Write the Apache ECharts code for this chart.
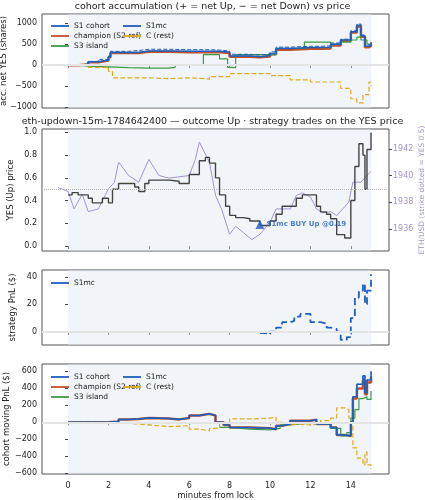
<!DOCTYPE html>
<html><head><meta charset="utf-8">
<script src="https://cdn.jsdelivr.net/npm/echarts@6/dist/echarts.min.js"></script>
<style>html,body{margin:0;padding:0;background:#fff}#c{width:425px;height:500px}</style>
</head><body><div id="c"></div>
<script>
// panel 1: accumulated net YES shares
const accS1 = [[0,0],[0.5,20],[1,80],[1.5,120],[2,200],[2.1,300],[3,300],[3.5,340],[4,340],[5,330],[6,330],[7,330],[7.5,310],[8,220],[8.5,220],[9,200],[9.5,230],[10,280],[10.3,400],[11,420],[12,420],[12.5,430],[13,500],[13.5,600],[14,800],[14.3,950],[14.5,700],[14.7,450],[14.9,480],[15,550]];
const accChamp = [[0,0],[0.5,15],[1,70],[1.5,110],[2,190],[2.1,290],[3,290],[3.5,320],[4,320],[5,310],[6,310],[7,310],[7.5,290],[8,200],[8.5,200],[9,190],[9.5,210],[10,260],[10.3,370],[11,390],[12,390],[12.5,400],[13,470],[13.5,580],[14,780],[14.3,920],[14.5,680],[14.7,430],[14.9,460],[15,500]];
const accS1mc = [[0,0],[0.5,30],[1,90],[1.5,140],[2,220],[2.1,330],[3,350],[3.5,380],[4,380],[5,370],[6,370],[7,360],[7.5,340],[8,260],[8.5,260],[9,240],[9.5,270],[10,320],[10.3,430],[11,450],[12,450],[12.5,460],[13,530],[13.5,620],[14,820],[14.3,980],[14.5,720],[14.7,480],[14.9,500],[15,580]];
const accS3 = [[0,0],[0.5,-20],[1,-40],[2,-60],[3,-70],[4,-70],[5,-50],[5.3,10],[6,10],[6.6,20],[6.7,250],[7.2,250],[7.5,150],[7.9,-50],[8.1,-60],[8.3,250],[9,250],[10,250],[10.3,400],[11,400],[11.7,550],[12.5,550],[13,500],[13.5,550],[14,600],[14.3,670],[14.5,600],[14.8,500],[15,500]];
const accC = [[0,0],[1,-50],[2,-150],[2.2,-300],[3,-300],[4,-320],[5,-300],[6,-330],[7,-270],[8,-200],[9,-200],[10,-250],[11,-350],[12,-400],[13,-400],[13.5,-550],[14,-800],[14.3,-900],[14.6,-700],[14.9,-400],[15,-500]];
// panel 2: YES price and ETH/USD
const yesPrice = [[0,0.45],[0.2,0.47],[0.5,0.45],[1,0.42],[1.2,0.38],[1.5,0.38],[1.7,0.42],[2,0.38],[2.2,0.5],[2.5,0.55],[3,0.55],[3.3,0.52],[3.5,0.48],[3.8,0.55],[4,0.58],[5,0.57],[5.5,0.55],[6,0.63],[6.5,0.75],[6.8,0.78],[7,0.73],[7.3,0.6],[7.5,0.45],[7.8,0.35],[8,0.27],[8.3,0.25],[8.7,0.24],[9,0.22],[9.5,0.18],[10,0.22],[10.3,0.28],[10.6,0.35],[11,0.35],[11.3,0.42],[11.6,0.45],[12,0.45],[12.3,0.35],[12.5,0.3],[12.8,0.28],[13,0.24],[13.3,0.1],[13.7,0.07],[14,0.4],[14.2,0.7],[14.4,0.9],[14.6,0.8],[14.7,0.5],[14.8,0.85],[15,1.0]];
const ethUsd = [[-0.5,1939.1],[0,1938.8],[0.3,1937.5],[0.7,1938.6],[1,1937.3],[1.5,1937.5],[2,1939],[2.3,1939.5],[2.5,1941],[3,1940],[3.5,1939.5],[4,1941.2],[4.5,1940],[5,1939.8],[6,1940],[6.3,1941.2],[6.5,1942.5],[7,1941],[7.3,1938.5],[7.6,1937.5],[8,1935.6],[8.3,1936.2],[8.7,1935.7],[9.1,1935.2],[9.5,1935.6],[10,1936.5],[10.3,1937.5],[11,1937.5],[11.3,1938.5],[11.6,1938.7],[12,1938.4],[12.3,1937.5],[12.6,1937.2],[13,1937.3],[13.3,1937.0],[13.6,1937.5],[13.9,1938],[14.1,1939.5],[14.5,1939.5],[14.8,1940],[15,1940.3]];
const buyMarker = [[9.5,0.19]];
// panel 3: strategy PnL
const pnlS1mc = [[9.5,-1],[9.8,-2],[10,0],[10.3,3],[10.6,7],[11,8],[11.2,11],[11.5,13],[11.9,13],[12,7],[12.5,6],[12.8,3],[13,2],[13.3,0],[13.5,-6],[13.8,-4],[14,10],[14.2,25],[14.4,30],[14.6,35],[14.7,20],[14.8,30],[15,42]];
// panel 4: cohort moving PnL
const mvS1 = [[0,0],[1,0],[2,10],[2.5,35],[3,40],[3.5,50],[4,45],[5,35],[5.5,50],[6,80],[6.5,100],[7,80],[7.3,0],[7.7,-30],[8,-60],[9,-70],[10,-80],[10.3,-40],[10.6,-20],[11,20],[12,30],[12.3,-20],[13,-60],[13.3,-150],[13.7,-160],[14,0],[14.1,300],[14.3,450],[14.6,550],[14.7,350],[14.8,500],[15,600]];
const mvChamp = [[0,0],[1,0],[2,10],[2.5,35],[3,40],[3.5,50],[4,45],[5,35],[5.5,50],[6,80],[6.5,100],[7,80],[7.3,0],[7.7,-30],[8,-60],[9,-70],[10,-80],[10.3,-40],[10.6,-20],[11,20],[12,30],[12.3,-20],[13,-60],[13.3,-150],[13.7,-160],[14,0],[14.1,280],[14.3,400],[14.6,500],[14.7,330],[14.8,470],[15,540]];
const mvS1mc = mvS1;
const mvS3 = [[0,0],[2,-10],[4,-10],[6,-10],[7,-10],[7.5,-60],[8,-80],[9,-90],[10,-70],[10.5,-30],[11,-10],[12,-20],[13,-70],[13.5,-160],[13.8,-120],[14,50],[14.2,150],[14.4,280],[14.6,300],[14.8,270],[15,370]];
const mvC = [[0,0],[2,-10],[3,-30],[4,-50],[5,-40],[6,-80],[6.5,-100],[7,-70],[7.5,0],[8,40],[9,50],[10,60],[10.3,0],[10.6,-20],[11,-30],[12,-20],[12.5,20],[13,50],[13.3,170],[13.7,150],[13.9,50],[14.1,-300],[14.3,-420],[14.6,-500],[14.7,-350],[14.8,-500],[15,-550]];
const xTicks = [0,2,4,6,8,10,12,14];
const accTicks = [-1000,-500,0,500,1000];
const yesTicks = [0,0.2,0.4,0.6,0.8,1.0];
const ethTicks = [1936,1938,1940,1942];
const pnlTicks = [0,20,40];
const mvTicks = [-600,-400,-200,0,200,400,600];

const BLUE='#1f5fbf', RED='#c0522b', GREEN='#3a9a44', YEL='#e0a91c', PUR='#a491cf';
const F='DejaVu Sans';
const grids=[{top:14,bottom:392},{top:129,bottom:249},{top:270,bottom:155},{top:364,bottom:26}]
 .map(g=>Object.assign(g,{left:42,right:36,show:true,borderColor:'#555',borderWidth:1,containLabel:false,outerBoundsMode:'none'}));
function fmtMinus(v){return String(v).replace('-','\u2212');}
function xa(i,labels){return {type:'value',gridIndex:i,min:-1.29,max:15.89,
 axisLine:{show:false},
 axisTick:{show:true,length:3,lineStyle:{color:'#444'},customValues:xTicks},
 axisLabel:{show:labels,fontFamily:F,fontSize:8,color:'#222',customValues:xTicks},
 splitLine:{show:false},
 name:labels?'minutes from lock':'',nameLocation:'middle',nameGap:13,nameTextStyle:{fontFamily:F,fontSize:8.5,color:'#222'}};}
function ya(i,min,max,ticks,name,gap,fmt,extra){return Object.assign({type:'value',gridIndex:i,min,max,
 axisLine:{show:false},
 axisTick:{show:true,length:3,lineStyle:{color:'#444'},customValues:ticks},
 axisLabel:{fontFamily:F,fontSize:8,margin:5,color:'#222',customValues:ticks,formatter:fmt||fmtMinus},
 splitLine:{show:false},nameMoveOverlap:false,
 name,nameLocation:'middle',nameGap:gap,nameTextStyle:{fontFamily:F,fontSize:8.5,color:'#222'}},extra||{});}
const shade={silent:true,itemStyle:{color:'rgba(225,232,245,0.45)'},data:[[{xAxis:0},{xAxis:15}]]};
function zeroSeries(xi,yi,val,dotted){return {type:'line',data:[],xAxisIndex:xi,yAxisIndex:yi,z:0,silent:true,
 markArea:shade,
 markLine:{silent:true,symbol:'none',label:{show:false},animation:false,
  lineStyle:dotted?{color:'#bbb',width:1,type:'dotted'}:{color:'#e4e4e4',width:2,type:'solid'},data:[{yAxis:val}]}};}
function ln(name,data,xi,yi,color,w,dash,extra){return Object.assign({type:'line',name,data,xAxisIndex:xi,yAxisIndex:yi,step:'end',symbol:'none',
 lineStyle:{color,width:w,type:dash?'dashed':'solid'},itemStyle:{color},animation:false,z:2},extra||{});}
const lg={orient:'vertical',itemGap:2,itemWidth:18,itemHeight:2,icon:'path://M0,0 L20,0 L20,2 L0,2 Z',textStyle:{fontFamily:F,fontSize:7.5,color:'#222'}};
const opt={animation:false,
 title:[{text:'cohort accumulation (+ = net Up, \u2212 = net Down) vs price',left:'center',top:2,padding:0,textStyle:{fontFamily:F,fontSize:9.5,fontWeight:'normal',color:'#222'}},
 {text:'eth-updown-15m-1784642400 \u2014 outcome Up \u00b7 strategy trades on the YES price',left:'center',top:117,padding:0,textStyle:{fontFamily:F,fontSize:9.5,fontWeight:'normal',color:'#222'}}],
 grid:grids,
 xAxis:[xa(0,false),xa(1,false),xa(2,false),xa(3,true)],
 yAxis:[ya(0,-1020,1220,accTicks,'acc. net YES (shares)',34),
  ya(1,-0.044,1.03,yesTicks,'YES (Up) price',27,v=>v.toFixed(1)),
  ya(1,1934.35,1943.48,ethTicks,'ETH/USD (strike dotted = YES 0.5)',29,null,{position:'right',nameTextStyle:{fontFamily:F,fontSize:7.5,color:PUR},axisLabel:{fontFamily:F,fontSize:8,margin:4,color:PUR,customValues:ethTicks,formatter:v=>String(v)}}),
  ya(2,-9.7,45.1,pnlTicks,'strategy PnL ($)',25),
  ya(3,-608,687,mvTicks,'cohort moving PnL ($)',31)],
 legend:[
  Object.assign({data:['S1 cohort','champion (S2 ref)','S3 island'],left:46,top:17},lg),
  Object.assign({data:['S1mc','C (rest)'],left:118,top:17},lg),
  Object.assign({data:['S1mc'],left:46,top:274},lg),
  Object.assign({data:['S1 cohort','champion (S2 ref)','S3 island'],left:46,top:368},lg),
  Object.assign({data:['S1mc','C (rest)'],left:118,top:368},lg)],
 series:[
  zeroSeries(0,0,0),zeroSeries(1,1,0.5,true),zeroSeries(2,3,0),zeroSeries(3,4,0),
  ln('champion (S2 ref)',accChamp,0,0,RED,2.5,false),
  ln('S1 cohort',accS1,0,0,BLUE,1.5,false,{z:3}),
  ln('S3 island',accS3,0,0,GREEN,1.2,false),
  ln('S1mc',accS1mc,0,0,BLUE,1,true,{z:3}),
  ln('C (rest)',accC,0,0,YEL,1.2,true),
  ln('ETH',ethUsd,1,2,PUR,1,false,{step:false,z:1}),
  ln('YES',yesPrice,1,1,'#444',1.4,false,{z:3}),
  {type:'scatter',name:'buy',data:buyMarker,xAxisIndex:1,yAxisIndex:1,symbol:'triangle',symbolSize:9,itemStyle:{color:BLUE},z:5,
   label:{show:true,position:'right',distance:2,formatter:'S1mc BUY Up @0.19',fontFamily:F,fontSize:7,fontWeight:'bold',color:BLUE}},
  ln('S1mc',pnlS1mc,2,3,BLUE,1.8,true),
  ln('champion (S2 ref)',mvChamp,3,4,RED,2.5,false),
  ln('S1 cohort',mvS1,3,4,BLUE,1.5,false,{z:3}),
  ln('S3 island',mvS3,3,4,GREEN,1.2,false),
  ln('S1mc',mvS1mc,3,4,BLUE,1,true,{z:3}),
  ln('C (rest)',mvC,3,4,YEL,1.2,true)
 ]};
const ch=echarts.init(document.getElementById('c'),null,{renderer:'canvas'});
ch.setOption(opt);
</script></body></html>
